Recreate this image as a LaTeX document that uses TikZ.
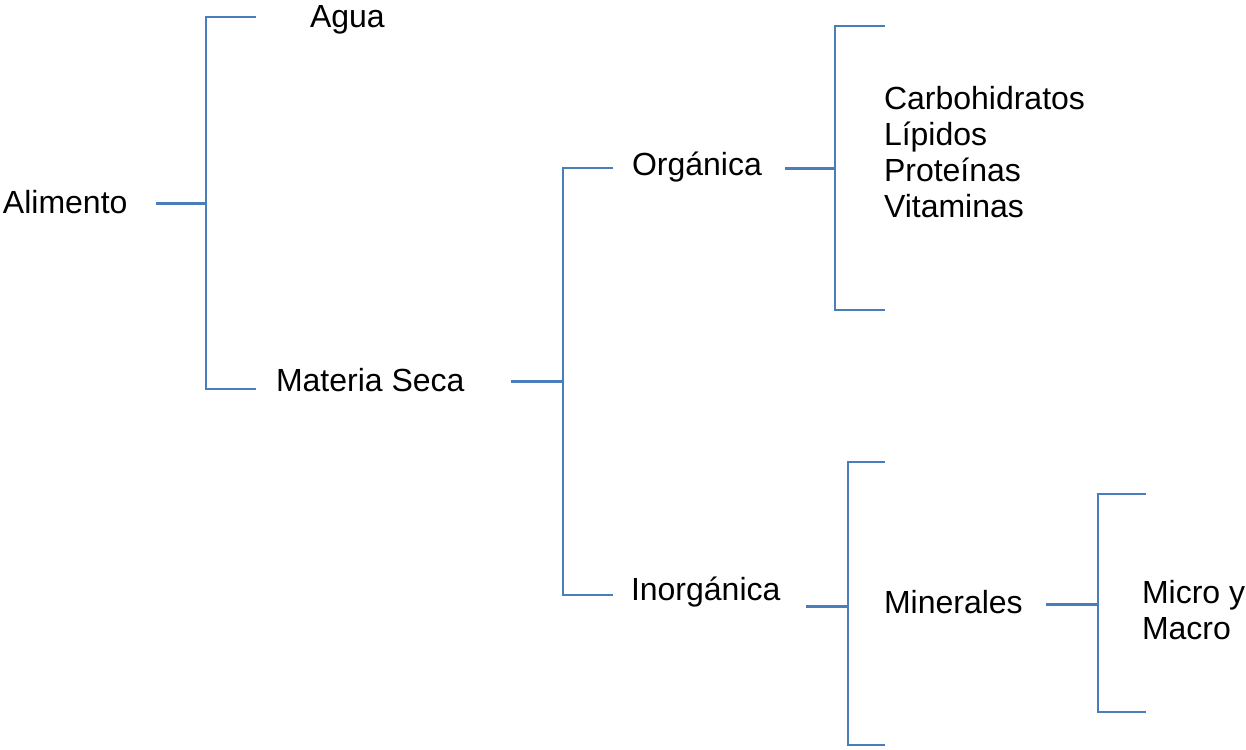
\documentclass[tikz,border=0pt]{standalone}
\usepackage{fontspec}
\setmainfont{Liberation Sans}
\definecolor{brk}{RGB}{74,126,187}
\begin{document}
\begin{tikzpicture}[x=0.5pt,y=-0.5pt,line width=1pt,every node/.style={font=\fontsize{16}{18}\selectfont,inner sep=0pt,anchor=west,align=left}]
\useasboundingbox (0,0) rectangle (1246,749);
\tikzset{arm/.style={draw=brk,line width=1pt},stem/.style={draw=brk,line width=1.5pt}}
% texts
\node (alim) at (2,202) {Alimento};
\node (agua) at (309,20) {Agua};
\node (ms) at (275,380) {Materia Seca};
\node (org) at (631,167) {Orgánica};
\node (inorg) at (630,592) {Inorgánica};
\node (lista) at (883,152) {Carbohidratos\\Lípidos\\Proteínas\\Vitaminas};
\node (min) at (883,602) {Minerales};
\node (micro) at (1141,610) {Micro y\\Macro};
% first bracket
\coordinate (a0) at (156,203);
\coordinate (a1) at (206,203);
\coordinate (a2) at (256,17);
\coordinate (a3) at (256,389);
\draw[stem] (a0) -- (a1);
\draw[arm] (a2) -| (a1) |- (a3);
% second bracket
\coordinate (b0) at (511,381);
\coordinate (b1) at (563,381);
\coordinate (b2) at (613,168);
\coordinate (b3) at (613,595);
\draw[stem] (b0) -- (b1);
\draw[arm] (b2) -| (b1) |- (b3);
% organica
\coordinate (c0) at (785,168);
\coordinate (c1) at (835,168);
\coordinate (c2) at (885,26);
\coordinate (c3) at (885,310);
\draw[stem] (c0) -- (c1);
\draw[arm] (c2) -| (c1) |- (c3);
% inorganica
\coordinate (d0) at (806,606);
\coordinate (d1) at (848,606);
\coordinate (d2) at (885,462);
\coordinate (d3) at (885,745);
\draw[stem] (d0) -- (d1);
\draw[arm] (d2) -| (d1) |- (d3);
% minerales
\coordinate (e0) at (1046,604);
\coordinate (e1) at (1098,604);
\coordinate (e2) at (1146,494);
\coordinate (e3) at (1146,712);
\draw[stem] (e0) -- (e1);
\draw[arm] (e2) -| (e1) |- (e3);
\end{tikzpicture}
\end{document}
